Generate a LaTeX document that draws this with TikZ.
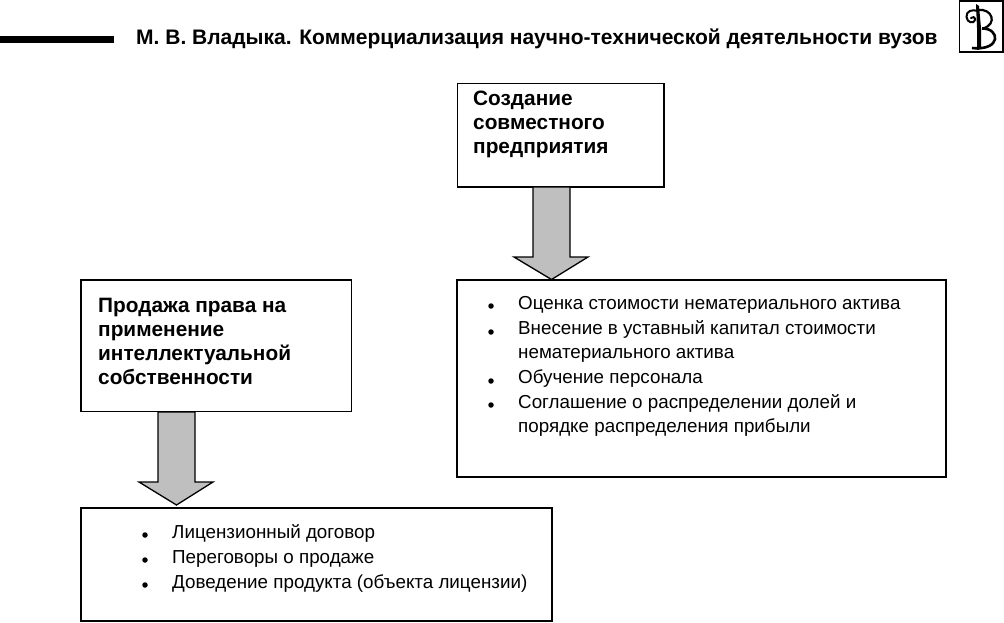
\documentclass[tikz,border=0pt]{standalone}
\usepackage{fontspec}
\setmainfont{Liberation Sans}
\tikzset{
 px/.style={x=1pt,y=-1pt},
 boxs/.style={draw=black,line width=1.4pt,fill=white},
 head/.style={font=\bfseries\fontsize{20.8}{24}\selectfont,anchor=north west,align=left,inner sep=0pt},
 item/.style={font=\fontsize{18.8}{24}\selectfont,anchor=base west,inner sep=0pt},
 dot/.style={circle,fill=black,inner sep=0pt,minimum size=5.5pt},
 fat/.style={draw=black,line width=1.3pt,fill=black!25,line join=miter},
}
\begin{document}
\begin{tikzpicture}[px]
\useasboundingbox (0,0) rectangle (1004,622);
\fill[white] (0,0) rectangle (1004,622);
\fill[black] (0,36) rectangle (114,43);
\node[font=\bfseries\fontsize{21}{24}\selectfont,anchor=base west,inner sep=0pt] (title) at (136,44) {М. В. Владыка. Коммерциализация научно-технической деятельности вузов};
\draw[line width=1.2pt] (959.5,1) rectangle (1003,52);
% ornament letter
\draw[line width=2pt,line cap=round] (978,11) .. controls (972,9) and (966,11) .. (966.5,17) .. controls (967,23) and (974,24) .. (975,20) .. controls (975.5,17) and (972,16) .. (971,18);
\fill (976,4) -- (979,6) -- (981,28) -- (981,49) -- (977,50) -- (977,28) -- cycle;
\draw[line width=2.2pt] (978,10) .. controls (992,8) and (998,24) .. (983,28.5);
\draw[line width=2.6pt] (982,28.5) .. controls (1000,28) and (1002,51) .. (972,48);
\node[boxs,minimum width=206.5pt,minimum height=103.5pt,anchor=north west,outer sep=0pt] (b1) at (457.5,83.5) {};
\node[head] (t1) at (473,91) {Создание\\совместного\\предприятия};
\node[boxs,minimum width=270.5pt,minimum height=131.5pt,anchor=north west,outer sep=0pt] (b2) at (81,280) {};
\node[head] (t2) at (98,298) {Продажа права на\\применение\\интеллектуальной\\собственности};
\node[boxs,minimum width=489pt,minimum height=197pt,anchor=north west,outer sep=0pt] (b3) at (457,280) {};
\node[boxs,minimum width=471pt,minimum height=113pt,anchor=north west,outer sep=0pt] (b4) at (81,508) {};
\draw[fat] (533,187) -- (570,187) -- (570,257) -- (588,257) -- (551.5,279.5) -- (514,257) -- (533,257) -- cycle;
\draw[fat] (158,412) -- (195,412) -- (195,482) -- (213,482) -- (176.5,505) -- (139,482) -- (158,482) -- cycle;
\foreach \n/\y/\s in {a/309/Оценка стоимости нематериального актива,
 b/334/Внесение в уставный капитал стоимости,
 c/358/нематериального актива,
 d/383/Обучение персонала,
 e/408/Соглашение о распределении долей и,
 f/432/порядке распределения прибыли}
  \node[item] (r\n) at (518,\y) {\s};
\foreach \n/\y in {a/306,b/332,d/381,e/405}
  \node[dot] (dr\n) at (491,\y) {};
\foreach \n/\y/\s in {a/538/Лицензионный договор,b/563/Переговоры о продаже,c/588/Доведение продукта (объекта лицензии)}{
  \node[item] (l\n) at (172,\y) {\s};
  \node[dot] (dl\n) at (145,\y-3) {};
}
\end{tikzpicture}
\end{document}
